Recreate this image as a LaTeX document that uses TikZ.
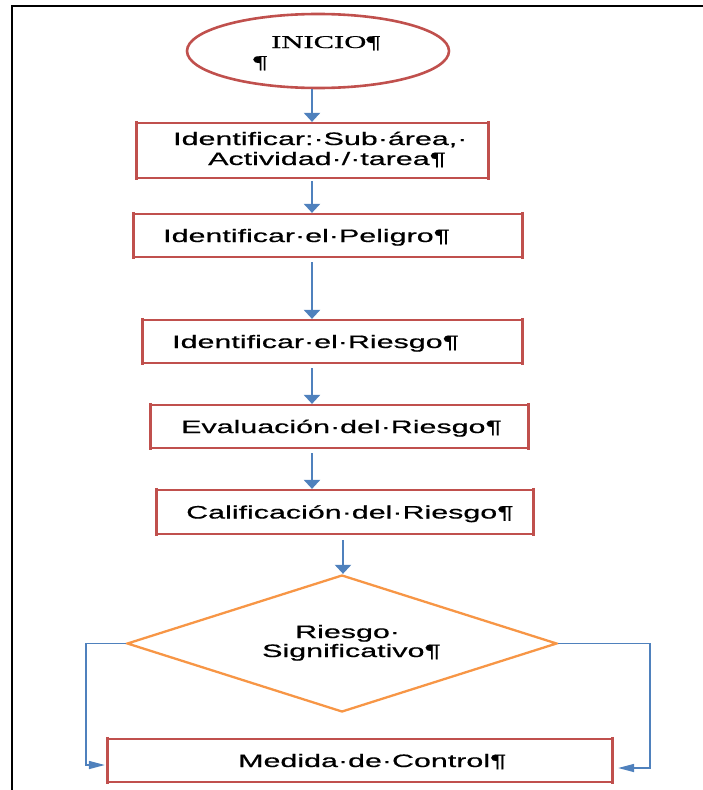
\documentclass[tikz,border=0pt]{standalone}
\usepackage{fontspec}
\usetikzlibrary{shapes.geometric,arrows.meta,calc}
\newfontfamily\wsans[FakeStretch=1.69,FakeBold=0.6]{Liberation Sans}
\newfontfamily\wserif[FakeStretch=1.7,FakeBold=0.6]{Liberation Serif}
\definecolor{boxred}{HTML}{C0504D}
\definecolor{arrblue}{HTML}{4F81BD}
\definecolor{diaorange}{HTML}{F79646}
\tikzset{
  box/.style={draw=boxred, line width=2.2pt, rectangle, inner sep=0pt},
  boxside/.style={draw=boxred, line width=3.6pt},
  txt/.style={inner sep=0pt, anchor=base west, font=\wsans\fontsize{18}{20}\selectfont, text=black},
  stxt/.style={inner sep=0pt, anchor=base west, font=\wserif\fontsize{18}{20}\selectfont, text=black},
  flow/.style={draw=arrblue, line width=2.5pt, -{Triangle[width=16pt,length=9pt]}},
  side/.style={draw=arrblue, line width=1.5pt, -{Triangle[width=8pt,length=16pt]}}
}
\begin{document}
\begin{tikzpicture}[x=1pt,y=-1pt]
\useasboundingbox (0,0) rectangle (702,790);
% frame
\draw[line width=2.2pt, black] (12,792) -- (12,6) -- (704,6);
% start ellipse
\node[ellipse, draw=boxred, line width=2.6pt, inner sep=0pt, minimum width=262pt, minimum height=74pt] (ell) at (318,51) {};
\node[stxt] (t0a) at (271,48) {INICIO¶};
\node[stxt] (t0b) at (253,68) {¶};
% boxes
\node[box, minimum width=351pt, minimum height=55pt] (b1) at (312.5,150.5) {};
\node[txt] (t1a) at (173,145) {Identificar:·Sub·área,·};
\node[txt] (t1b) at (208,165) {Actividad·/·tarea¶};
\node[box, minimum width=388pt, minimum height=43pt] (b2) at (328,235.5) {};
\node[txt] (t2) at (163,242) {Identificar·el·Peligro¶};
\node[box, minimum width=379pt, minimum height=43pt] (b3) at (332.5,341.5) {};
\node[txt] (t3) at (172,348) {Identificar·el·Riesgo¶};
\node[box, minimum width=377pt, minimum height=43pt] (b4) at (339.5,426.5) {};
\node[txt] (t4) at (181,433) {Evaluación·del·Riesgo¶};
\node[box, minimum width=376pt, minimum height=44pt] (b5) at (345,512) {};
\node[txt] (t5) at (186,518.5) {Calificación·del·Riesgo¶};
% decision
\node[diamond, draw=diaorange, line width=2.3pt, inner sep=0pt, minimum width=430pt, minimum height=137pt] (dia) at (342,643.5) {};
\node[txt] (t6a) at (295,638) {Riesgo·};
\node[txt] (t6b) at (262,657) {Significativo¶};
% final box
\node[box, minimum width=504pt, minimum height=43pt] (b6) at (360,760.5) {};
\node[txt] (t7) at (238,767) {Medida·de·Control¶};
% thicker vertical sides of the boxes
\foreach \b in {b1,b2,b3,b4,b5,b6} {
  \draw[boxside] ([xshift=0.7pt,yshift=1.1pt]\b.north west) -- ([xshift=0.7pt,yshift=-1.1pt]\b.south west);
  \draw[boxside] ([xshift=-0.7pt,yshift=1.1pt]\b.north east) -- ([xshift=-0.7pt,yshift=-1.1pt]\b.south east);
}
% connectors
\coordinate (ax) at (312,0);
\coordinate (bx) at (343,0);
\draw[flow] (ell.south -| ax) -- (b1.north -| ax);
\draw[flow, shorten <=2pt] (b1.south -| ax) -- (b2.north -| ax);
\draw[flow, shorten <=4pt] (b2.south -| ax) -- (b3.north -| ax);
\draw[flow, shorten <=4pt] (b3.south -| ax) -- (b4.north -| ax);
\draw[flow, shorten <=4pt] (b4.south -| ax) -- (b5.north -| ax);
\draw[flow, shorten <=5pt] (b5.south -| bx) -- (dia.north -| bx);
\coordinate (lc) at (86,765);
\coordinate (rc) at (650,768);
\draw[side, shorten >=2pt] (dia.west) -| (lc) -- (lc -| b6.west);
\draw[side, shorten >=5pt] (dia.east) -| (rc) -- (rc -| b6.east);
\end{tikzpicture}
\end{document}
